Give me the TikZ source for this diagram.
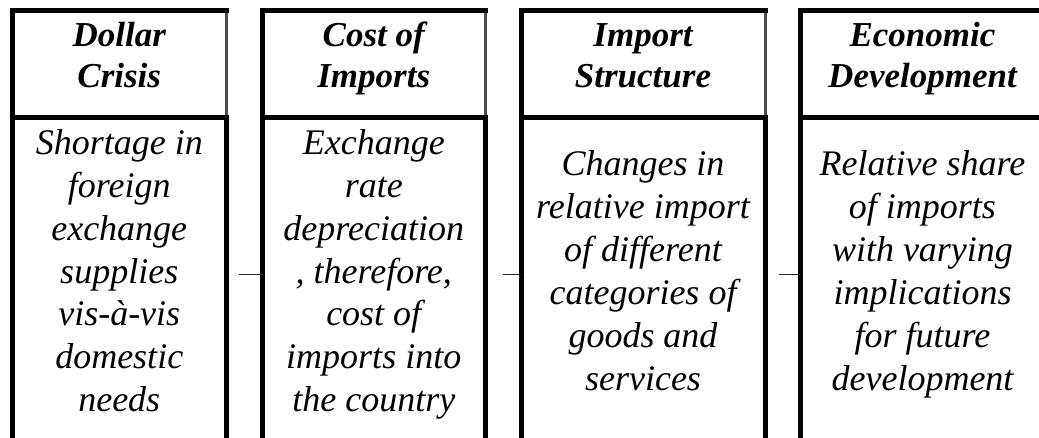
\documentclass[tikz,border=0pt]{standalone}
\usepackage{fontspec}
\setmainfont{Liberation Serif}
\begin{document}
\begin{tikzpicture}[x=1pt, y=-1pt,
  cell/.style={rectangle, draw=none, inner sep=0pt, outer sep=0pt},
  frame/.style={line width=5pt, black, line cap=rect, line join=miter},
  sideline/.style={line width=5pt, black},
  thinedge/.style={line width=3pt, black!70},
  headtext/.style={font=\fontsize{35}{41.5}\selectfont\bfseries\itshape, align=center, inner sep=0pt},
  bodytext/.style={cell, font=\fontsize{36}{42.9}\selectfont\itshape, align=center},
  link/.style={line width=1.6pt, black!85}]

\useasboundingbox (0,0) rectangle (1039,437);

% header cells (y = 10 .. 117.5)
\node[cell, minimum width=214.5pt, minimum height=107.5pt] (h1) at (119.25,63.75) {};
\node[cell, minimum width=222.5pt, minimum height=107.5pt] (h2) at (373.75,63.75) {};
\node[cell, minimum width=244pt,   minimum height=107.5pt] (h3) at (643,63.75) {};
\node[cell, minimum width=245pt,   minimum height=107.5pt] (h4) at (922.5,63.75) {};

\node[headtext, yshift=5.3pt] (h1t) at (h1.center) {\strut Dollar\\Crisis\strut};
\node[headtext, yshift=5.3pt] (h2t) at (h2.center) {\strut Cost of\\Imports\strut};
\node[headtext, yshift=5.3pt] (h3t) at (h3.center) {\strut Import\\Structure\strut};
\node[headtext, yshift=5.3pt] (h4t) at (h4.center) {\strut Economic\\Development\strut};

% body cells (text centred on y = 274.5)
\node[bodytext, minimum width=214.5pt, minimum height=314pt] (b1) at (119.25,274.5)
  {\strut Shortage in\\foreign\\exchange\\supplies\\vis-à-vis\\domestic\\needs\strut};
\node[bodytext, minimum width=222.5pt, minimum height=314pt] (b2) at (373.75,274.5)
  {\strut Exchange\\rate\\depreciation\\, therefore,\\cost of\\imports into\\the country\strut};
\node[bodytext, minimum width=244pt, minimum height=314pt] (b3) at (643,274.5)
  {\strut Changes in\\relative import\\of different\\categories of\\goods and\\services\strut};
\node[bodytext, minimum width=245pt, minimum height=314pt] (b4) at (922.5,274.5)
  {\strut Relative share\\of imports\\with varying\\implications\\for future\\development\strut};

% header borders: thin right edge, heavy top/left/bottom
\foreach \h in {h1,h2,h3,h4}{
  \draw[thinedge] (\h.north east) -- (\h.south east);
  \draw[frame] (\h.north east) -- (\h.north west) -- (\h.south west) -- (\h.south east);
}

% body side rules running off the lower edge
\foreach \b in {b1,b2,b3,b4}{
  \draw[sideline] (\b.north west) -- ([yshift=-30pt]\b.south west);
  \draw[sideline] (\b.north east) -- ([yshift=-30pt]\b.south east);
}

% short links between neighbouring columns
\draw[link, shorten <=12.5pt] (b1.east) -- (b2.west);
\draw[link, shorten <=18pt]   (b2.east) -- (b3.west);
\draw[link, shorten <=14pt]   (b3.east) -- (b4.west);
\end{tikzpicture}
\end{document}
